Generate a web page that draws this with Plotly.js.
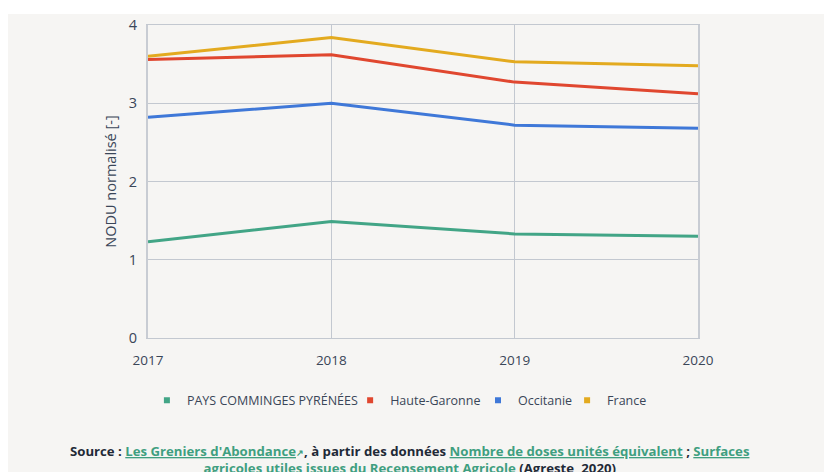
<!DOCTYPE html>
<html>
<head>
<meta charset="utf-8">
<script src="https://cdn.plot.ly/plotly-3.0.1.min.js"></script>
<style>
  html, body { margin: 0; padding: 0; background: #ffffff; width: 824px; height: 472px; overflow: hidden; }
  #panel { position: absolute; left: 8px; top: 14px; width: 816px; height: 458px; background: #f6f5f3; }
  #chart { position: absolute; left: 0; top: 0; width: 824px; height: 472px; }
</style>
</head>
<body>
<div id="panel"></div>
<div id="chart"></div>
<script>
const years = ['2017', '2018', '2019', '2020'];
const seriesNames = ['PAYS COMMINGES PYRÉNÉES', 'Haute-Garonne', 'Occitanie', 'France'];
const paysComminges = [1.23, 1.49, 1.33, 1.30];
const hauteGaronne = [3.56, 3.62, 3.27, 3.12];
const occitanie = [2.82, 3.00, 2.72, 2.68];
const france = [3.60, 3.84, 3.53, 3.48];
const colors = ['#42a586', '#e0472f', '#3f78d8', '#e3aa1f'];
const yTicks = [0, 1, 2, 3, 4];
const yTitle = 'NODU normalisé [-]';

const values = [paysComminges, hauteGaronne, occitanie, france];
const font = '"Open Sans", "Noto Sans", sans-serif';
const textColor = '#3a4658';
const legendIds = ['legend', 'legend2', 'legend3', 'legend4'];
const legendX = [-0.002, 0.3675, 0.60, 0.762];

const traces = [];
values.forEach((v, i) => {
  traces.push({
    x: years, y: v, type: 'scatter', mode: 'lines',
    line: { color: colors[i], width: 3 },
    name: seriesNames[i], showlegend: false, hoverinfo: 'x+y+name'
  });
});
values.forEach((v, i) => {
  traces.push({
    x: [null], y: [null], type: 'scatter', mode: 'markers',
    marker: { color: colors[i], symbol: 'square', size: 6 },
    name: seriesNames[i], showlegend: true, legend: legendIds[i]
  });
});

const link = (t) => '<span style="color:#3f9f80;text-decoration:underline">' + t + '</span>';
const sourceText =
  '<b>Source : ' + link('Les Greniers d\'Abondance') + '<span style="color:#3f9f80;font-size:9px">↗</span>, à partir des données ' +
  link('Nombre de doses unités équivalent') + ' ; ' + link('Surfaces') +
  '<br>' + link('agricoles utiles issues du Recensement Agricole') + ' (Agreste, 2020)</b>';

const layout = {
  width: 824, height: 472,
  margin: { l: 148, r: 126, t: 25, b: 134 },
  paper_bgcolor: 'rgba(0,0,0,0)',
  plot_bgcolor: 'rgba(0,0,0,0)',
  font: { family: font, size: 13, color: textColor },
  xaxis: {
    type: 'category', range: [0, 3],
    showgrid: true, gridcolor: '#c3c8d0', gridwidth: 1,
    showline: true, mirror: true, linecolor: '#c3c8d0', linewidth: 1,
    zeroline: false,
    ticks: '', tickfont: { size: 13.5, color: textColor },
    ticklabelstandoff: 10
  },
  yaxis: {
    range: [0, 4], tickvals: yTicks,
    showgrid: true, gridcolor: '#c3c8d0', gridwidth: 1,
    zeroline: false,
    showline: true, mirror: true, linecolor: '#c8ccd3', linewidth: 2,
    ticks: '', tickfont: { size: 14.5, color: textColor },
    ticklabelstandoff: 6,
    title: { text: yTitle, font: { size: 14.5, color: textColor }, standoff: 9 }
  },
  showlegend: true,
  annotations: [{
    xref: 'paper', yref: 'paper', x: 0.476, y: -0.327, xanchor: 'center', yanchor: 'top',
    showarrow: false, align: 'center',
    text: sourceText,
    font: { family: '"Open Sans", sans-serif', size: 13.2, color: '#1f2a37' }
  }]
};
legendIds.forEach((id, i) => {
  layout[id] = {
    orientation: 'h', x: legendX[i], xanchor: 'left', y: -0.2, yanchor: 'middle',
    font: { size: 12.5, color: textColor }, bgcolor: 'rgba(0,0,0,0)'
  };
});

Plotly.newPlot('chart', traces, layout, { displayModeBar: false, staticPlot: true });
</script>
</body>
</html>
